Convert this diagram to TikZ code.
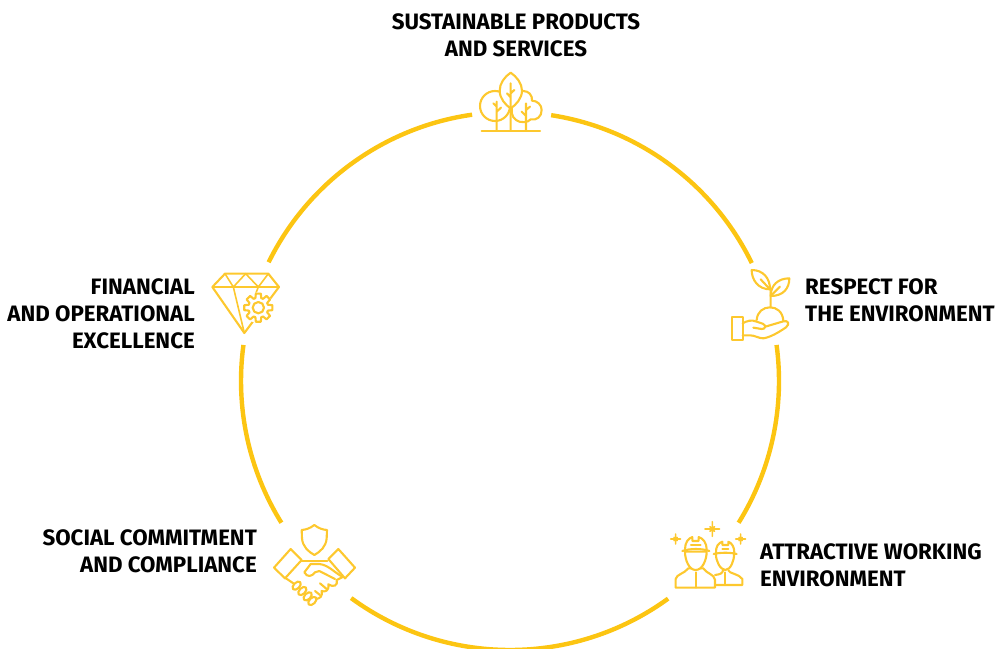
\documentclass[tikz,border=0pt]{standalone}
\usepackage{fontspec}
\setmainfont{Fira Sans}
\definecolor{ringc}{HTML}{FCC512}
\definecolor{iconc}{HTML}{FDC82E}
\tikzset{
  ringarc/.style={draw=ringc,line width=4.4pt},
  ico/.style={draw=iconc,line width=2.1pt,line join=round,line cap=round},
  icof/.style={ico,fill=white},
  lbl/.style={font=\fontsize{22.3}{27}\selectfont\bfseries,text=black,inner sep=0pt},
}
\newcommand{\ringseg}[2]{\draw[ringarc] ([shift={(#1:269pt)}]c) arc[start angle=#1,end angle=#2,radius=269pt];}
\begin{document}
\begin{tikzpicture}[x=1pt,y=-1pt]
\useasboundingbox (0,0) rectangle (1000,648);
\clip (0,0) rectangle (1000,648);
\coordinate (c) at (510,381);
\ringseg{81.2}{26}
\ringseg{7.7}{-31.8}
\ringseg{-54}{-126.2}
\ringseg{211.8}{172.3}
\ringseg{153.8}{98.1}

% trees
\begin{scope}[shift={(460pt,-60pt)},x=0.3333pt,y=-0.3333pt]
\draw[icof] (105,138) circle[radius=45];
\draw[icof] (160,130) .. controls (155,105) and (175,92) .. (190,93) .. controls (205,93) and (218,105) .. (216,122) .. controls (232,122) and (245,135) .. (245,150) .. controls (245,170) and (230,182) .. (212,178) .. controls (205,188) and (180,190) .. (168,180) .. controls (155,172) and (150,150) .. (160,130) -- cycle;
\draw[icof] (152,38) .. controls (170,50) and (186,70) .. (186,92) .. controls (186,115) and (168,135) .. (152,145) .. controls (136,135) and (119,115) .. (119,92) .. controls (119,70) and (134,50) .. (152,38) -- cycle;
\draw[ico] (65,212) -- (240,212);
\draw[ico] (110,125) -- (110,212) (110,155) -- (123,143) (110,140) -- (100,130);
\draw[ico] (152,70) -- (152,212) (152,100) -- (163,90) (152,112) -- (141,100);
\draw[ico] (198,130) -- (198,212) (198,168) -- (185,155) (198,150) -- (210,140);
\end{scope}

% hand with seedling
\begin{scope}[shift={(720pt,-260pt)},x=0.3333pt,y=-0.3333pt]
\draw[ico] (150,88) .. controls (150,55) and (130,30) .. (95,30) .. controls (95,60) and (115,88) .. (150,88) -- cycle;
\draw[ico] (152,108) .. controls (152,75) and (175,55) .. (208,55) .. controls (208,85) and (190,108) .. (152,108) -- cycle;
\draw[ico] (150,88) -- (122,58) (152,108) -- (180,80) (152,88) -- (152,142);
\draw[ico] (110,180) .. controls (112,155) and (130,142) .. (150,142) .. controls (170,142) and (188,155) .. (190,182);
\draw[ico] (37,170) rectangle (68,240);
\draw[ico] (68,190) .. controls (80,183) and (95,178) .. (110,185) -- (128,191) .. controls (140,196) and (136,208) .. (125,207) -- (100,203);
\draw[ico] (136,200) -- (190,184) .. controls (205,180) and (210,192) .. (198,202) .. controls (175,218) and (150,232) .. (130,235) .. controls (115,235) and (105,226) .. (90,226) -- (68,226);
\end{scope}

% workers
\begin{scope}[shift={(665pt,-515pt)},x=0.3333pt,y=-0.3333pt]
% right worker
\draw[ico] (150,180) .. controls (165,178) and (172,176) .. (174,166) (190,166) .. controls (192,176) and (222,176) .. (232,192) -- (232,210) -- (150,210);
\draw[ico] (153,118) .. controls (152,135) and (165,165) .. (181,165) .. controls (197,165) and (208,135) .. (207,118);
\draw[ico] (146,117) .. controls (165,112) and (197,112) .. (215,117);
\draw[ico] (153,113) .. controls (152,95) and (160,84) .. (172,80) -- (172,90) -- (190,90) -- (190,80) .. controls (200,84) and (208,95) .. (208,113);
\draw[ico] (172,102) -- (190,102) (181,172) -- (181,210);
% left worker
\draw[icof] (32,218) -- (32,192) .. controls (34,178) and (58,176) .. (70,160) -- (115,160) .. controls (125,176) and (148,178) .. (150,194) -- (150,218) -- cycle;
\draw[icof] (60,110) .. controls (60,135) and (72,165) .. (92,165) .. controls (112,165) and (125,135) .. (125,110) -- cycle;
\draw[ico] (52,108) .. controls (75,100) and (110,100) .. (133,108);
\draw[ico] (60,103) .. controls (60,82) and (70,70) .. (82,66) -- (82,78) -- (101,78) -- (101,66) .. controls (115,70) and (125,85) .. (125,103);
\draw[ico] (78,90) -- (107,90) (92,172) -- (92,218);
% stars
\foreach \sx/\sy/\sa/\sb in {142/42/22/7,32/72/15/5,227/72/15/5}{
  \draw[ico,line width=1.6pt] (\sx-\sa,\sy) -- (\sx+\sa,\sy) (\sx,\sy-\sa) -- (\sx,\sy+\sa)
     (\sx-\sb,\sy-\sb) -- (\sx+\sb,\sy+\sb) (\sx-\sb,\sy+\sb) -- (\sx+\sb,\sy-\sb);
}
\end{scope}

% handshake
\begin{scope}[shift={(270pt,-515pt)},x=0.3333pt,y=-0.3333pt]
\draw[ico] (133,30) .. controls (120,40) and (108,44) .. (95,45) -- (96,70) .. controls (98,95) and (115,110) .. (133,120) .. controls (151,110) and (168,95) .. (170,70) -- (171,45) .. controls (158,44) and (146,40) .. (133,30) -- cycle;
\draw[ico] (62,102) -- (95,135) -- (45,190) -- (12,158) -- cycle;
\draw[ico] (205,102) -- (175,132) -- (225,190) -- (255,158) -- cycle;
\draw[ico] (95,139) -- (172,139);
\draw[ico] (122,147) -- (148,147) .. controls (175,150) and (190,170) .. (218,186);
\draw[ico] (122,147) -- (103,172) .. controls (112,188) and (125,185) .. (135,172) -- (148,168) -- (195,192);
\draw[ico] (48,190) -- (70,205);
\foreach \fx/\fy in {80/212,97/228,113/244,127/258}{
  \draw[icof,rotate around={45:(\fx,\fy)}] (\fx,\fy) ellipse[x radius=15,y radius=9];
}
\draw[ico] (218,186) -- (200,195) .. controls (205,212) and (190,218) .. (175,208) .. controls (178,228) and (165,232) .. (155,228) .. controls (158,245) and (150,250) .. (138,252);
\draw[ico] (150,240) -- (135,228) (170,222) -- (150,205);
\end{scope}

% diamond with gear
\begin{scope}[shift={(205pt,-262pt)},x=0.3333pt,y=-0.3333pt]
\draw[ico] (60,35) -- (190,35) -- (222,75) -- (118,213) -- (22,75) -- cycle;
\draw[ico,line width=1.6pt] (22,75) -- (222,75) (60,35) -- (85,75) -- (122,35) -- (160,75) -- (190,35) (85,75) -- (118,213) (160,75) -- (150,100);
\fill[white] (160,137) circle[radius=46];
\draw[ico] (160,137) circle[radius=17];
\begin{scope}[shift={(160,137)}]
\draw[ico] (-17:30) \foreach \ga in {0,45,...,315}{
    -- (\ga-17:30) -- (\ga-10:43) -- (\ga+10:43) -- (\ga+17:30)
  } -- cycle;
\end{scope}
\end{scope}

% labels
\node[lbl,align=center] (top) at (516,35.5) {SUSTAINABLE PRODUCTS\\AND SERVICES};
\node[lbl,align=left,anchor=west] (right) at (805,300) {RESPECT FOR\\THE ENVIRONMENT};
\node[lbl,align=left,anchor=west] (lowright) at (760,565.5) {ATTRACTIVE WORKING\\ENVIRONMENT};
\node[lbl,align=right,anchor=east] (left) at (195,314) {FINANCIAL\\AND OPERATIONAL\\EXCELLENCE};
\node[lbl,align=right,anchor=east] (lowleft) at (257,551.5) {SOCIAL COMMITMENT\\AND COMPLIANCE};
\end{tikzpicture}
\end{document}
